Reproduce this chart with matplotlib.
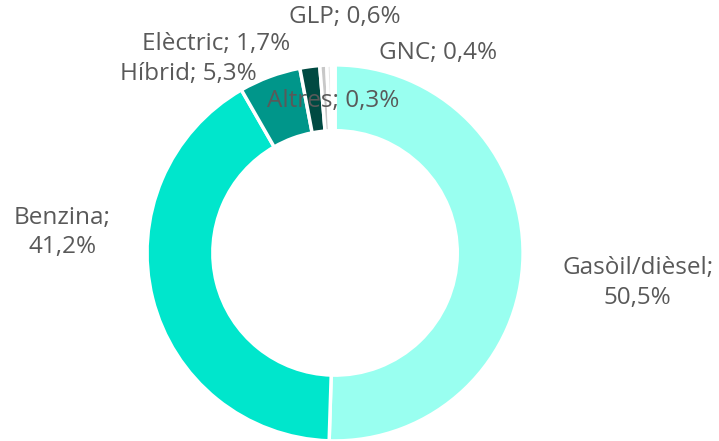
import matplotlib.pyplot as plt

labels = ["Gasòil/dièsel", "Benzina", "Híbrid", "Elèctric", "GLP", "GNC", "Altres"]
values = [50.5, 41.2, 5.3, 1.7, 0.6, 0.4, 0.3]
colors = ["#99FFF0", "#00E6CC", "#00968A", "#004A42", "#C8C8C8", "#E6E6E6", "#F3F3F3"]
# label positions in axes data units (radius = 1)
label_pos = [(1.61, -0.16), (-1.45, 0.11), (-0.78, 0.95), (-0.63, 1.11),
             (0.05, 1.255), (0.55, 1.064), (-0.01, 0.81)]
two_line = ["Gasòil/dièsel", "Benzina"]


def fmt(name, v):
    pct = f"{v:.1f}".replace(".", ",")
    sep = "\n" if name in two_line else " "
    return f"{name};{sep}{pct}%"


def main():
    fig = plt.figure(figsize=(7.19, 4.41), dpi=100)
    ax = fig.add_axes([0.2045, 0.0, 0.523, 0.853])
    ax.pie(values, colors=colors, startangle=90, counterclock=False,
           radius=1, wedgeprops=dict(width=0.35, edgecolor="white", linewidth=2.5))
    for name, v, (x, y) in zip(labels, values, label_pos):
        ax.text(x, y, fmt(name, v), ha="center", va="center", fontsize=17.5,
                color="#595959", family="Open Sans", linespacing=1.3)
    ax.set_xlim(-1, 1)
    ax.set_ylim(-1, 1)
    ax.set_aspect("equal")
    ax.axis("off")
    fig.savefig("out.png", dpi=100)


if __name__ == "__main__":
    main()
